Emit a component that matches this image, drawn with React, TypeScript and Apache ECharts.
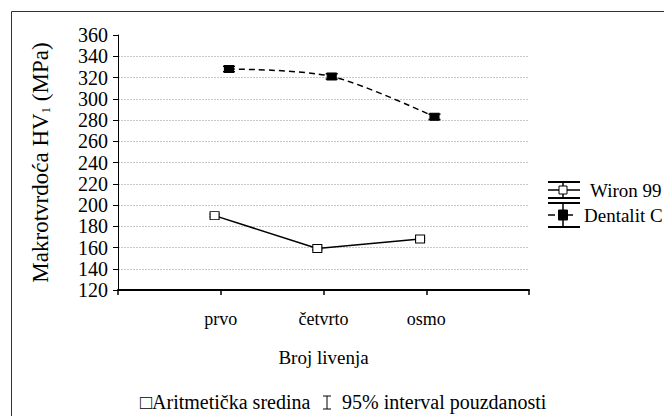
import React, { useEffect, useRef } from "react";
import * as echarts from "echarts";

const categories = ["prvo", "četvrto", "osmo"];
const wironMeans = [190, 159, 168];
const wironErr = [1.2, 1.2, 1.2];
const dentalitMeans = [328, 321, 283];
const dentalitErr = [2.5, 2.5, 2.5];
const yTicks = { min: 120, max: 360, step: 20 };
const wironOffset = -0.06;
const dentalitOffset = 0.08;

const FONT = "Liberation Serif";

export default function App() {
  const ref = useRef<HTMLDivElement>(null);
  useEffect(() => {
    if (!ref.current) return;
    const chart = echarts.init(ref.current, null, { renderer: "svg" });
    const wironData = wironMeans.map((v, i) => [i + 1 + wironOffset, v]);
    const dentalitData = dentalitMeans.map((v, i) => [i + 1 + dentalitOffset, v]);
    const wironErrData = wironMeans.map((v, i) => [i + 1 + wironOffset, v - wironErr[i], v + wironErr[i]]);
    const dentalitErrData = dentalitMeans.map((v, i) => [i + 1 + dentalitOffset, v - dentalitErr[i], v + dentalitErr[i]]);
    const nLines = (yTicks.max - yTicks.min) / yTicks.step + 1;
    const splitColors = Array.from({ length: nLines }, (_, i) => (i === nLines - 1 ? "rgba(0,0,0,0)" : "#c8c8c8"));

    const errRender = (capW: number) => (params: any, api: any) => {
      const x = api.value(0);
      const lo = api.coord([x, api.value(1)]);
      const hi = api.coord([x, api.value(2)]);
      const w = capW / 2;
      const st = { stroke: "#000", lineWidth: 1.5 };
      return {
        type: "group",
        children: [
          { type: "line", shape: { x1: lo[0], y1: lo[1], x2: hi[0], y2: hi[1] }, style: st },
          { type: "line", shape: { x1: lo[0] - w, y1: lo[1], x2: lo[0] + w, y2: lo[1] }, style: st },
          { type: "line", shape: { x1: hi[0] - w, y1: hi[1], x2: hi[0] + w, y2: hi[1] }, style: st },
        ],
      };
    };

    const txt = (text: string, x: number, y: number, size: number) => ({
      type: "text",
      x,
      y: y - size / 2,
      style: { text, fontFamily: FONT, fontSize: size, fill: "#000" },
    });

    const option: any = {
      animation: false,
      backgroundColor: "#fff",
      grid: { left: 118, right: 135, top: 35, bottom: 126, containLabel: false },
      xAxis: {
        type: "value",
        min: 0,
        max: categories.length + 1,
        interval: 1,
        axisLine: { show: true, lineStyle: { color: "#000", width: 2 } },
        axisTick: { show: true, length: 5, lineStyle: { color: "#000", width: 1.5 } },
        splitLine: { show: false },
        axisLabel: {
          margin: 20,
          fontFamily: FONT,
          fontSize: 18,
          color: "#000",
          showMinLabel: true,
          showMaxLabel: true,
          formatter: (v: number) => categories[Math.round(v) - 1] ?? "",
        },
        name: "Broj livenja",
        nameLocation: "middle",
        nameGap: 58,
        nameTextStyle: { fontFamily: FONT, fontSize: 19, color: "#000" },
      },
      yAxis: {
        type: "value",
        min: yTicks.min,
        max: yTicks.max,
        interval: yTicks.step,
        axisLine: { show: true, lineStyle: { color: "#000", width: 1 } },
        axisTick: { show: true, length: 5, lineStyle: { color: "#000" } },
        splitLine: { show: true, lineStyle: { color: splitColors, type: [2, 1], width: 1 } },
        axisLabel: { margin: 10, fontFamily: FONT, fontSize: 20, color: "#000" },
        name: "Makrotvrdoća HV{sub|1} (MPa)",
        nameLocation: "middle",
        nameRotate: 90,
        nameGap: 66,
        nameTextStyle: {
          fontFamily: FONT,
          fontSize: 23,
          color: "#000",
          rich: { sub: { fontFamily: FONT, fontSize: 13, color: "#000", verticalAlign: "bottom", padding: [10, 0, 0, 0] } },
        },
      },
      series: [
        { type: "custom", name: "Wiron 99 CI", data: wironErrData, renderItem: errRender(10), z: 1, encode: { x: 0, y: [1, 2] } },
        { type: "custom", name: "Dentalit C CI", data: dentalitErrData, renderItem: errRender(12), z: 1, encode: { x: 0, y: [1, 2] } },
        {
          type: "line",
          name: "Wiron 99",
          data: wironData,
          z: 3,
          symbol: "rect",
          symbolSize: [9, 8],
          lineStyle: { color: "#000", width: 1.5 },
          itemStyle: { color: "#fff", borderColor: "#000", borderWidth: 1 },
        },
        {
          type: "line",
          name: "Dentalit C",
          data: dentalitData,
          z: 3,
          smooth: 0.3,
          symbol: "rect",
          symbolSize: [9, 7],
          lineStyle: { color: "#000", width: 1.5, type: [6, 4] },
          itemStyle: { color: "#000", borderColor: "#000", borderWidth: 1 },
        },
      ],
      graphic: [
        { type: "rect", shape: { x: 11.5, y: 11.5, width: 700, height: 500 }, style: { fill: "none", stroke: "#333", lineWidth: 1 }, silent: true },
        { type: "line", shape: { x1: 548, y1: 182, x2: 580, y2: 182 }, style: { stroke: "#000", lineWidth: 2 } },
        { type: "line", shape: { x1: 548, y1: 190, x2: 580, y2: 190 }, style: { stroke: "#000", lineWidth: 1.5 } },
        { type: "line", shape: { x1: 548, y1: 198, x2: 580, y2: 198 }, style: { stroke: "#000", lineWidth: 2 } },
        { type: "line", shape: { x1: 563, y1: 182, x2: 563, y2: 198 }, style: { stroke: "#000", lineWidth: 1.5 } },
        { type: "rect", shape: { x: 559, y: 186, width: 8, height: 8 }, style: { fill: "#fff", stroke: "#000", lineWidth: 1 } },
        txt("Wiron 99", 590, 190, 19),
        { type: "line", shape: { x1: 548, y1: 203, x2: 580, y2: 203 }, style: { stroke: "#000", lineWidth: 2 } },
        { type: "line", shape: { x1: 548, y1: 215, x2: 555, y2: 215 }, style: { stroke: "#000", lineWidth: 1.5 } },
        { type: "line", shape: { x1: 567, y1: 215, x2: 573, y2: 215 }, style: { stroke: "#000", lineWidth: 1.5 } },
        { type: "line", shape: { x1: 548, y1: 227, x2: 580, y2: 227 }, style: { stroke: "#000", lineWidth: 2 } },
        { type: "line", shape: { x1: 563, y1: 203, x2: 563, y2: 227 }, style: { stroke: "#000", lineWidth: 1.5 } },
        { type: "rect", shape: { x: 558.5, y: 210, width: 9, height: 10 }, style: { fill: "#000", stroke: "#000", lineWidth: 1 } },
        txt("Dentalit C", 584, 215, 19),
        txt("□Aritmetička sredina", 140, 402, 20),
        { type: "line", shape: { x1: 327, y1: 396, x2: 327, y2: 409 }, style: { stroke: "#000", lineWidth: 1 } },
        { type: "line", shape: { x1: 323, y1: 396, x2: 331, y2: 396 }, style: { stroke: "#000", lineWidth: 1 } },
        { type: "line", shape: { x1: 323, y1: 409, x2: 331, y2: 409 }, style: { stroke: "#000", lineWidth: 1 } },
        txt("95% interval pouzdanosti", 342, 402, 20),
      ],
    };
    chart.setOption(option);
    return () => chart.dispose();
  }, []);
  return <div ref={ref} style={{ position: "fixed", left: 0, top: 0, width: 664, height: 416 }} />;
}
